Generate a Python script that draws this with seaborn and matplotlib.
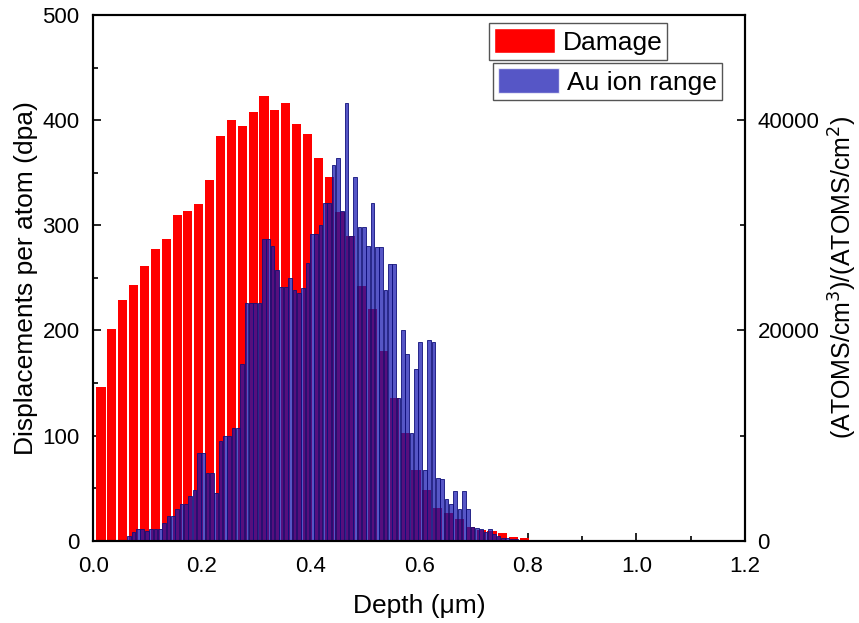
import matplotlib
matplotlib.use('Agg')
import pandas as pd
import matplotlib.pyplot as plt
from matplotlib.patches import Patch
from matplotlib.ticker import MultipleLocator, FormatStrFormatter
import seaborn as sns

# damage profile (dpa), 0.02 um bins
damage_depth = [0.014, 0.034, 0.054, 0.074, 0.094, 0.114, 0.134, 0.154, 0.174, 0.194,
                0.214, 0.234, 0.254, 0.274, 0.294, 0.314, 0.334, 0.354, 0.374, 0.394,
                0.414, 0.434, 0.454, 0.474, 0.494, 0.514, 0.534, 0.554, 0.574, 0.594,
                0.614, 0.634, 0.654, 0.674, 0.694, 0.714, 0.734, 0.754, 0.774, 0.794,
                0.814, 0.834, 0.854, 0.874, 0.894]
damage_dpa = [146, 201, 229, 243, 261, 277, 287, 310, 314, 320,
              343, 385, 400, 394, 408, 423, 410, 416, 396, 387,
              364, 346, 313, 290, 242, 220, 180, 136, 102, 67,
              48, 31, 26, 21, 13, 10, 9.5, 7.3, 4, 2.2,
              1, 1, 0.5, 0.5, 0.3]

# Au ion range, (atoms/cm3)/(atoms/cm2)
ion_depth = [0.066, 0.074, 0.082, 0.090, 0.098, 0.106, 0.114, 0.122, 0.130, 0.138,
             0.146, 0.154, 0.162, 0.170, 0.178, 0.186, 0.194, 0.202, 0.210, 0.218,
             0.226, 0.234, 0.242, 0.250, 0.258, 0.266, 0.274, 0.282, 0.290, 0.298,
             0.306, 0.314, 0.322, 0.330, 0.338, 0.346, 0.354, 0.362, 0.370, 0.378,
             0.386, 0.394, 0.402, 0.410, 0.418, 0.426, 0.434, 0.442, 0.450, 0.458,
             0.466, 0.474, 0.482, 0.490, 0.498, 0.506, 0.514, 0.522, 0.530, 0.538,
             0.546, 0.554, 0.562, 0.570, 0.578, 0.586, 0.594, 0.602, 0.610, 0.618,
             0.626, 0.634, 0.642, 0.650, 0.658, 0.666, 0.674, 0.682, 0.690, 0.698,
             0.706, 0.714, 0.722, 0.730, 0.738, 0.746, 0.754, 0.762, 0.770, 0.778,
             0.786, 0.794]
ion_conc = [500, 800, 1100, 1100, 950, 1100, 1100, 1100, 1700, 2400,
            2400, 3000, 3500, 3500, 4300, 4800, 8300, 8300, 6400, 6400,
            4500, 9500, 10000, 10000, 10700, 10700, 16800, 22600, 22600, 22600,
            22600, 28700, 28700, 28000, 25700, 24100, 24100, 25000, 23800, 23600,
            24000, 26400, 29200, 29200, 30000, 32100, 32100, 35700, 36400, 31400,
            41600, 29000, 34600, 29800, 29800, 28000, 32100, 27900, 27900, 23800,
            26300, 26300, 13600, 20000, 17800, 10200, 16300, 18900, 6700, 19100,
            18900, 6000, 5900, 4000, 3500, 4700, 3000, 4700, 3000, 1300,
            1200, 1100, 800, 1100, 600, 500, 300, 300, 200, 150,
            100, 100]

red = '#FF0000'
blue = '#1515B0'

dmg = pd.DataFrame({'depth': damage_depth, 'dpa': damage_dpa})
ion = pd.DataFrame({'depth': ion_depth, 'conc': ion_conc})

sns.set_style('ticks')
plt.rcParams['font.family'] = ['Liberation Sans', 'DejaVu Sans']
plt.rcParams['text.color'] = 'black'
plt.rcParams['axes.labelcolor'] = 'black'
plt.rcParams['xtick.color'] = 'black'
plt.rcParams['ytick.color'] = 'black'

fig = plt.figure(figsize=(8.59, 6.23), dpi=100)
ax = fig.add_axes([0.1088, 0.132, 0.7585, 0.844])

sns.histplot(data=dmg, x='depth', weights='dpa', binwidth=0.02,
             binrange=(dmg.depth.min() - 0.01, dmg.depth.max() + 0.01),
             shrink=0.84, color=red, alpha=1, linewidth=0, ax=ax)

ax2 = ax.twinx()
sns.histplot(data=ion, x='depth', weights='conc', binwidth=0.008,
             binrange=(ion.depth.min() - 0.004, ion.depth.max() + 0.004),
             shrink=0.85, color=blue, alpha=0.72, edgecolor='#10107A',
             linewidth=0.6, ax=ax2)

ax.set_xlim(0, 1.2)
ax.set_ylim(0, 500)
ax2.set_ylim(0, 50000)
ax.xaxis.set_major_locator(MultipleLocator(0.2))
ax.xaxis.set_minor_locator(MultipleLocator(0.1))
ax.yaxis.set_major_locator(MultipleLocator(100))
ax.yaxis.set_minor_locator(MultipleLocator(50))
ax2.yaxis.set_major_locator(MultipleLocator(20000))
ax2.yaxis.set_minor_locator(MultipleLocator(10000))
ax.xaxis.set_major_formatter(FormatStrFormatter('%.1f'))

ax.tick_params(axis='x', which='major', direction='in', length=6, width=1.2,
               labelsize=16, pad=11)
ax.tick_params(axis='y', which='major', direction='in', length=6, width=1.2,
               labelsize=16, pad=10)
ax.tick_params(axis='both', which='minor', direction='in', length=3.5, width=1.2)
ax2.tick_params(axis='y', which='major', direction='in', length=6, width=1.2,
                labelsize=16, pad=9)
ax2.tick_params(axis='y', which='minor', direction='in', length=3.5, width=1.2)

for a in (ax, ax2):
    for s in a.spines.values():
        s.set_linewidth(1.5)
        s.set_color('black')

ax.set_xlabel('Depth (μm)', fontsize=19, labelpad=12)
ax.set_ylabel('Displacements per atom (dpa)', fontsize=19, labelpad=3)
ax2.set_ylabel('(ATOMS/cm$^3$)/(ATOMS/cm$^2$)', fontsize=18, labelpad=5)

leg_kw = dict(loc='upper right', fontsize=19, fancybox=False, framealpha=1,
              edgecolor='#555555', borderpad=0.2, handlelength=2.3,
              handleheight=1.1, handletextpad=0.3, borderaxespad=0)
leg1 = ax2.legend(handles=[Patch(facecolor=red, label='Damage')],
                  bbox_to_anchor=(0.881, 0.985), **leg_kw)
leg1.get_frame().set_linewidth(1)
ax2.add_artist(leg1)
leg2 = ax2.legend(handles=[Patch(facecolor=blue, alpha=0.72, label='Au ion range')],
                  bbox_to_anchor=(0.9645, 0.909), **leg_kw)
leg2.get_frame().set_linewidth(1)

fig.savefig('out.png', dpi=100)
